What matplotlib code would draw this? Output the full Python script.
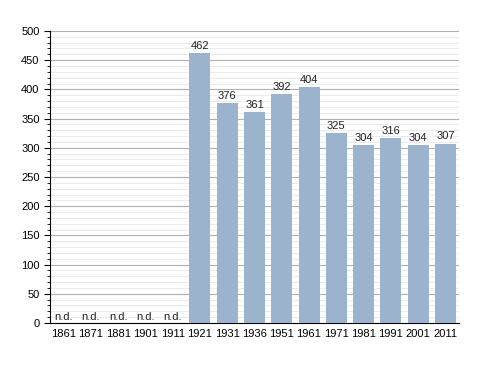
import matplotlib
matplotlib.use("Agg")
import matplotlib.pyplot as plt
from matplotlib.ticker import MultipleLocator

plt.rcParams["font.family"] = ["Liberation Sans", "DejaVu Sans"]

years = ["1861", "1871", "1881", "1901", "1911", "1921", "1931", "1936",
         "1951", "1961", "1971", "1981", "1991", "2001", "2011"]
values = [None, None, None, None, None, 462, 376, 361, 392, 404, 325, 304, 316, 304, 307]

fig = plt.figure(figsize=(4.88, 3.73), dpi=100)
ax = fig.add_axes([0.1025, 0.134, 0.838, 0.783])

x = list(range(len(years)))
for i, v in zip(x, values):
    if v is None:
        ax.text(i, 2, "n.d.", ha="center", va="bottom", fontsize=8, color="#222222")
    else:
        ax.bar(i, v, width=0.77, color="#9bb3cd", zorder=3)
        ax.text(i, v + 4, str(v), ha="center", va="bottom", fontsize=8, color="#222222")

ax.set_xlim(-0.5, len(years) - 0.5)
ax.set_ylim(0, 500)
ax.set_xticks(x)
ax.set_xticklabels(years, fontsize=8)
ax.yaxis.set_major_locator(MultipleLocator(50))
ax.yaxis.set_minor_locator(MultipleLocator(10))
ax.tick_params(axis="y", labelsize=8, length=4, width=0.8)
ax.tick_params(axis="y", which="minor", length=2, width=0.6)
ax.tick_params(axis="x", length=0, pad=4)
ax.grid(axis="y", which="major", color="#b0b0b0", linewidth=0.8, zorder=0)
ax.grid(axis="y", which="minor", color="#e8e8e8", linewidth=0.6, zorder=0)
ax.set_axisbelow(True)
for s in ["top", "right"]:
    ax.spines[s].set_visible(False)
ax.spines["left"].set_linewidth(0.8)
ax.spines["bottom"].set_linewidth(0.8)

fig.savefig("out.png", dpi=100)
